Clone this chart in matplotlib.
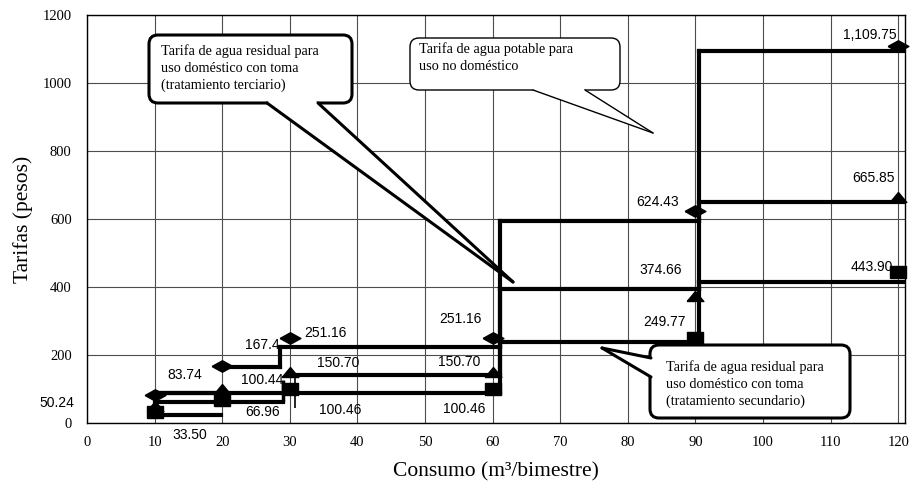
import numpy as np
import matplotlib.pyplot as plt
from matplotlib.patches import FancyBboxPatch, Polygon
from matplotlib.lines import Line2D
from matplotlib.transforms import Affine2D

# consumption breakpoints (m3/bimestre)
consumo = [10, 20, 30, 60, 90, 120]

# tariffs as printed on the chart
sec_labels = ["33.50", "66.96", "100.46", "100.46", "249.77", "443.90"]
ter_labels = ["50.24", "100.44", "150.70", "150.70", "374.66", "665.85"]
pot_labels = ["83.74", "167.4", "251.16", "251.16", "624.43", "1,109.75"]

secundario = [float(s.replace(",", "")) for s in sec_labels]
terciario = [float(s.replace(",", "")) for s in ter_labels]
potable = [float(s.replace(",", "")) for s in pot_labels]

# step lines as they are drawn in the chart (start, end, level)
sec_start = [10, 10, 61.1, 90.5]
sec_end = [19.8, 61.1, 90.5, 121]
sec_level = [24, 88, 238, 415]

ter_start = [10, 31, 61.1, 90.5]
ter_end = [29, 61.1, 90.5, 121]
ter_level = [63, 141, 394, 650]

pot_start = [10, 20.9, 28.5, 61.1, 90.5]
pot_end = [20, 28.5, 61.1, 90.5, 121]
pot_level = [89, 165, 224, 595, 1094]

W, H = 913, 493
fig = plt.figure(figsize=(W / 100, H / 100), dpi=100)
ax = fig.add_axes([87 / W, 1 - 423 / H, (905 - 87) / W, (423 - 15) / H])

ax.set_xlim(0, 121)
ax.set_ylim(0, 1200)
ax.set_xticks(range(0, 121, 10))
ax.set_yticks(range(0, 1201, 200))
ax.grid(True, color="0.3", lw=0.8)
ax.set_axisbelow(True)
ax.tick_params(length=0, labelsize=10.5)
ax.tick_params(axis="x", pad=9)
ax.tick_params(axis="y", pad=11)
for lab in ax.get_xticklabels() + ax.get_yticklabels():
    lab.set_family("Liberation Serif")
for sp in ax.spines.values():
    sp.set_linewidth(1.0)

ax.set_xlabel("Consumo (m³/bimestre)", family="Liberation Serif", fontsize=15.5, labelpad=10)
ax.set_ylabel("Tarifas (pesos)", family="Liberation Serif", fontsize=15.5, labelpad=7)


def draw_steps(start, end, level):
    ax.hlines(level, start, end, colors="black", lw=3, capstyle="projecting", zorder=3)
    for i in range(len(level) - 1):
        if end[i] == start[i + 1]:
            ax.vlines(end[i], level[i], level[i + 1], colors="black", lw=3,
                      capstyle="projecting", zorder=3)


draw_steps(sec_start, sec_end, sec_level)
draw_steps(ter_start, ter_end, ter_level)
draw_steps(pot_start, pot_end, pot_level)
# small risers near 30
ax.vlines(29, 63, 127, colors="black", lw=2.5, zorder=3)
ax.vlines(30.8, 44, 147, colors="black", lw=1.2, zorder=3)

diamond = [(-1, 0), (0, 0.55), (1, 0), (0, -0.55), (-1, 0)]
square = [(-1, -0.7), (1, -0.7), (1, 0.7), (-1, 0.7), (-1, -0.7)]
triangle = [(-1, -0.6), (1, -0.6), (0, 0.6), (-1, -0.6)]

ax.plot(consumo, secundario, ls="none", marker=square, ms=12, color="black", clip_on=False, zorder=4)
ax.plot(consumo, terciario, ls="none", marker=triangle, ms=12, color="black", clip_on=False, zorder=4)
ax.plot(consumo, potable, ls="none", marker=diamond, ms=15, color="black", clip_on=False, zorder=4)

# label offsets in pixels from each point
sec_off = [(35, -23), (40, -12), (50, -21), (-28, -20), (-31, 16), (-26, 5)]
ter_off = [(-98, 3), (40, 9), (48, 9), (-33, 10), (-35, 26), (-25, 19)]
pot_off = [(30, 20), (40, 21), (36, 5), (-32, 19), (-38, 9), (-28, 11)]

for vals, texts, offs in [(secundario, sec_labels, sec_off),
                          (terciario, ter_labels, ter_off),
                          (potable, pot_labels, pot_off)]:
    for x, v, t, o in zip(consumo, vals, texts, offs):
        ax.annotate(t, (x, v), xytext=o, textcoords="offset pixels",
                    ha="center", va="center", fontsize=10,
                    family="Liberation Sans", zorder=6, annotation_clip=False)

# callouts, drawn in image pixel units (origin top-left)
T = Affine2D().scale(1 / 100, -1 / 100).translate(0, H / 100) + fig.dpi_scale_trans


def callout(box, text, text_xy, tail_a, tail_b, tip, lw, inner):
    x0, y0, x1, y1 = box
    b = FancyBboxPatch((x0, y0), x1 - x0, y1 - y0,
                       boxstyle="round,pad=0,rounding_size=9",
                       fc="white", ec="black", lw=lw, transform=T,
                       clip_on=False, zorder=7)
    ax.add_patch(b)
    tail = Polygon([inner[0], tail_a, tip, tail_b, inner[1]], closed=True,
                   fc="white", ec="none", transform=T, clip_on=False, zorder=8)
    ax.add_patch(tail)
    for p in (tail_a, tail_b):
        ax.add_line(Line2D([p[0], tip[0]], [p[1], tip[1]], color="black", lw=lw,
                           transform=T, clip_on=False, zorder=9,
                           solid_capstyle="round"))
    ax.text(text_xy[0], text_xy[1], text, transform=T, ha="left", va="center",
            family="Liberation Serif", fontsize=10.3, linespacing=1.4, zorder=10)


callout((149, 35, 352, 103),
        "Tarifa de agua residual para\nuso doméstico con toma\n(tratamiento terciario)",
        (161, 68), (267, 103), (318, 103), (513, 282), 2.2,
        [(272, 97), (312, 97)])

callout((410, 38, 620, 90),
        "Tarifa de agua potable para\nuso no doméstico",
        (419, 58), (533, 90), (585, 90), (653, 133), 1.0,
        [(538, 86), (580, 86)])

callout((650, 345, 850, 418),
        "Tarifa de agua residual para\nuso doméstico con toma\n(tratamiento secundario)",
        (666, 384), (651, 358), (651, 377), (602, 348), 2.2,
        [(656, 360), (656, 375)])

fig.savefig("out.png", dpi=100)
